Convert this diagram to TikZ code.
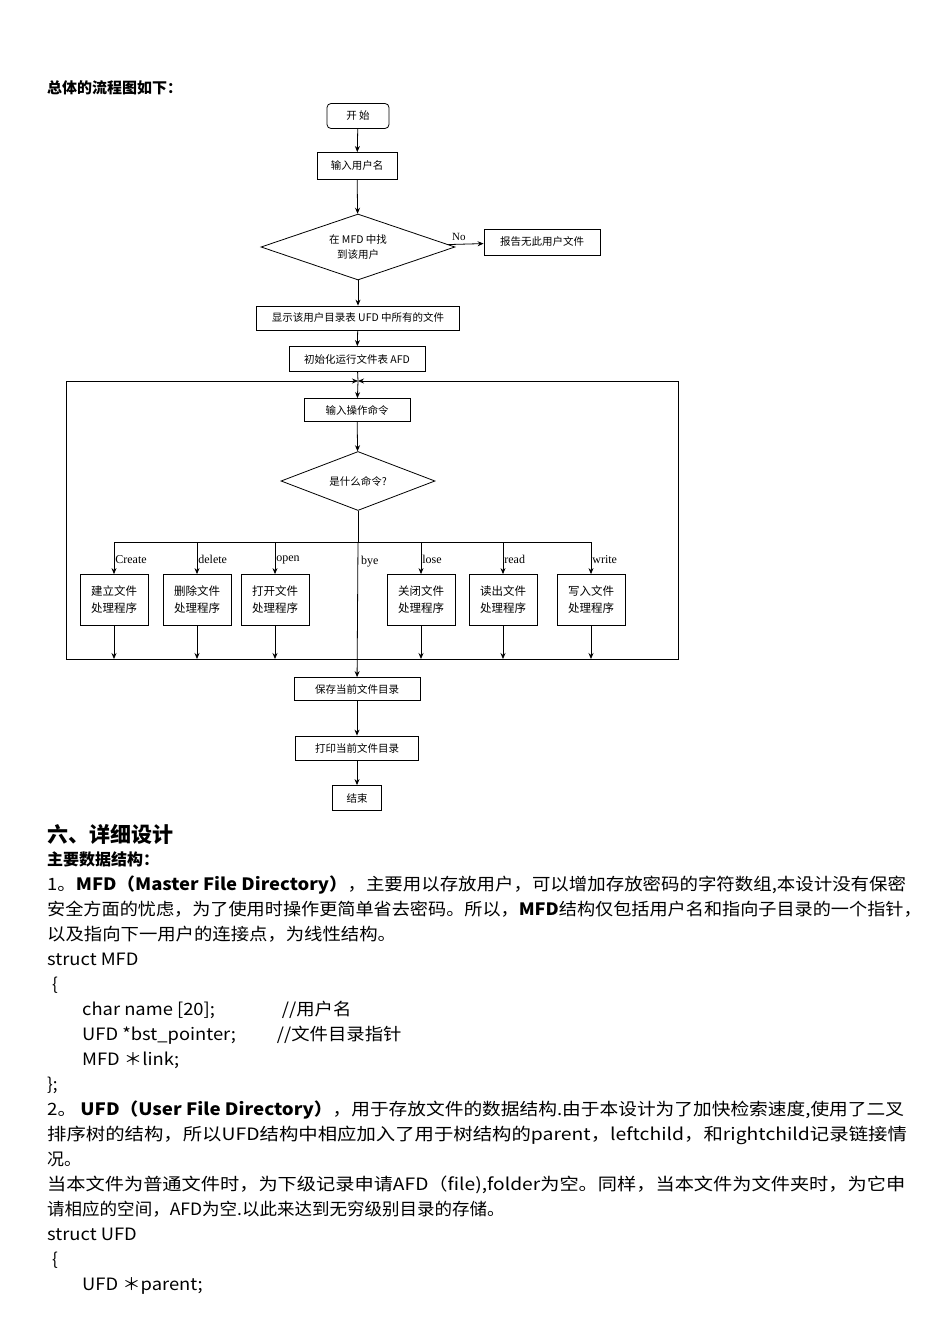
\documentclass[tikz,border=0pt]{standalone}
\usepackage{fontspec}
\setmainfont{Noto Sans CJK SC}
\newfontfamily\lat{Liberation Serif}
\usetikzlibrary{shapes.geometric,arrows.meta}
\newcommand{\sx}[2]{\scalebox{#1}[1]{#2}}
\begin{document}
\begin{tikzpicture}[x=1pt,y=-1pt,
  bx/.style={draw,thick,minimum height=24pt,font=\fontsize{10.5}{12}\selectfont,inner sep=2pt},
  pb/.style={draw,thick,minimum width=68pt,minimum height=51pt,font=\fontsize{11.5}{17}\selectfont,align=left},
  dm/.style={draw,thick,diamond,aspect=2.9,inner sep=0pt,font=\fontsize{10.5}{15}\selectfont,align=center},
  ar/.style={-{Stealth[length=6pt,width=5pt]},thick},
  lb/.style={font=\lat\fontsize{12}{12}\selectfont,anchor=south west,inner sep=1pt},
  tx/.style={anchor=base west,inner sep=0pt,font=\fontsize{17}{20}\selectfont}]
\useasboundingbox (0,0) rectangle (950,1344);
\fill[white] (0,0) rectangle (950,1344);
\node[anchor=base west,inner sep=0pt,font=\bfseries\fontsize{15}{18}\selectfont] (title) at (47,93) {总体的流程图如下：};
% flowchart
\node[bx,rounded corners=4pt,minimum width=62pt,minimum height=25pt] (start) at (358,116) {开\ 始};
\node[bx,minimum width=80pt,minimum height=27pt] (user) at (357,166) {输入用户名};
\node[dm,minimum width=194pt,minimum height=66pt] (find) at (358,247) {在 MFD 中找\\到该用户};
\node[bx,minimum width=116pt,minimum height=26pt] (noUser) at (542,242) {报告无此用户文件};
\node[bx,minimum width=203pt] (show) at (358,318) {显示该用户目录表 UFD 中所有的文件};
\node[bx,minimum width=136pt,minimum height=25pt] (init) at (357,359) {初始化运行文件表 AFD};
\node[bx,minimum width=106pt,minimum height=23pt] (cmd) at (357,410) {输入操作命令};
\node[dm,minimum width=154pt,minimum height=59pt] (what) at (358,481) {是什么命令?};
\node[pb] (p1) at (114,600) {建立文件\\处理程序};
\node[pb] (p2) at (197,600) {删除文件\\处理程序};
\node[pb] (p3) at (275,600) {打开文件\\处理程序};
\node[pb] (p4) at (421,600) {关闭文件\\处理程序};
\node[pb] (p5) at (503,600) {读出文件\\处理程序};
\node[pb] (p6) at (591,600) {写入文件\\处理程序};
\node[bx,minimum width=126pt,minimum height=23pt] (save) at (357,689) {保存当前文件目录};
\node[bx,minimum width=123pt] (print) at (357,748) {打印当前文件目录};
\node[bx,minimum width=49pt,minimum height=25pt] (end) at (357,798) {结束};
\coordinate (top) at (358,381);
\coordinate (br) at (358,542);
\coordinate (fl) at (66,381);
\coordinate (fr) at (678,381);
\draw[ar] (start) -- (user);
\draw[ar] (user) -- (find);
\draw[ar] (find) -- node[above,font=\lat\fontsize{11}{12}\selectfont,pos=0.3]{No} (noUser);
\draw[ar] (find) -- (show);
\draw[ar] (show) -- (init);
\draw[thick] (init) -- (top);
\draw[ar] (top) -- (cmd);
\draw[ar] (cmd) -- (what);
\draw[thick] (what.south) -- (br);
\draw[thick] (p1.north |- br) -- (p6.north |- br);
\draw[thick] (fl) |- (66,659) -- (678,659) |- (fr);
\draw[ar] (fl) -- (top);
\draw[ar] (fr) -- (top);
\foreach \p/\t in {p1/Create,p2/delete,p3/open,p4/lose,p5/read,p6/write}{
  \draw[ar] (\p.north |- br) -- node[lb,pos=0.55,anchor=west]{\t} (\p.north);
  \draw[ar] (\p.south) -- (\p.south |- 0,659);
}
\node[lb,anchor=west] (byel) at (360,562) {bye};
\draw[ar] (br) -- (save);
\draw[ar] (save) -- (print);
\draw[ar] (print) -- (end);
% text
\node[anchor=base west,inner sep=0pt,font=\bfseries\fontsize{21}{24}\selectfont] (h6) at (47,842) {六、详细设计};
\node[anchor=base west,inner sep=0pt,font=\bfseries\fontsize{16}{18}\selectfont] (h7) at (47,865) {主要数据结构：};
\node[tx] (l1) at (47,890) {\sx{1.085}{1。\textbf{MFD（Master File Directory）}，主要用以存放用户，可以增加存放密码的字符数组,本设计没有保密}};
\node[tx] (l2) at (47,915) {\sx{1.067}{安全方面的忧虑，为了使用时操作更简单省去密码。所以，\textbf{MFD}结构仅包括用户名和指向子目录的一个指针，}};
\node[tx] (l3) at (47,940) {\sx{1.08}{以及指向下一用户的连接点，为线性结构。}};
\node[tx] (l4) at (47,965) {\sx{1.08}{struct MFD}};
\node[tx] (l5) at (52,990) {\{};
\node[tx] (l6) at (82,1015) {\sx{1.08}{char name [20];\hspace{62pt}//用户名}};
\node[tx] (l7) at (82,1040) {\sx{1.08}{UFD *bst\_pointer;\hspace{38pt}//文件目录指针}};
\node[tx] (l8) at (82,1065) {\sx{1.08}{MFD ＊link;}};
\node[tx] (l9) at (47,1090) {\};};
\node[tx] (l10) at (47,1115) {\sx{1.10}{2。 \textbf{UFD（User File Directory）}，用于存放文件的数据结构.由于本设计为了加快检索速度,使用了二叉}};
\node[tx] (l11) at (47,1140) {\sx{1.14}{排序树的结构，所以UFD结构中相应加入了用于树结构的parent，leftchild，和rightchild记录链接情}};
\node[tx] (l12) at (47,1165) {况。};
\node[tx] (l13) at (47,1190) {\sx{1.13}{当本文件为普通文件时，为下级记录申请AFD（file),folder为空。同样，当本文件为文件夹时，为它申}};
\node[tx] (l14) at (47,1215) {\sx{1.03}{请相应的空间，AFD为空.以此来达到无穷级别目录的存储。}};
\node[tx] (l15) at (47,1240) {\sx{1.08}{struct UFD}};
\node[tx] (l16) at (52,1265) {\{};
\node[tx] (l17) at (82,1290) {\sx{1.08}{UFD ＊parent;}};
\end{tikzpicture}
\end{document}
